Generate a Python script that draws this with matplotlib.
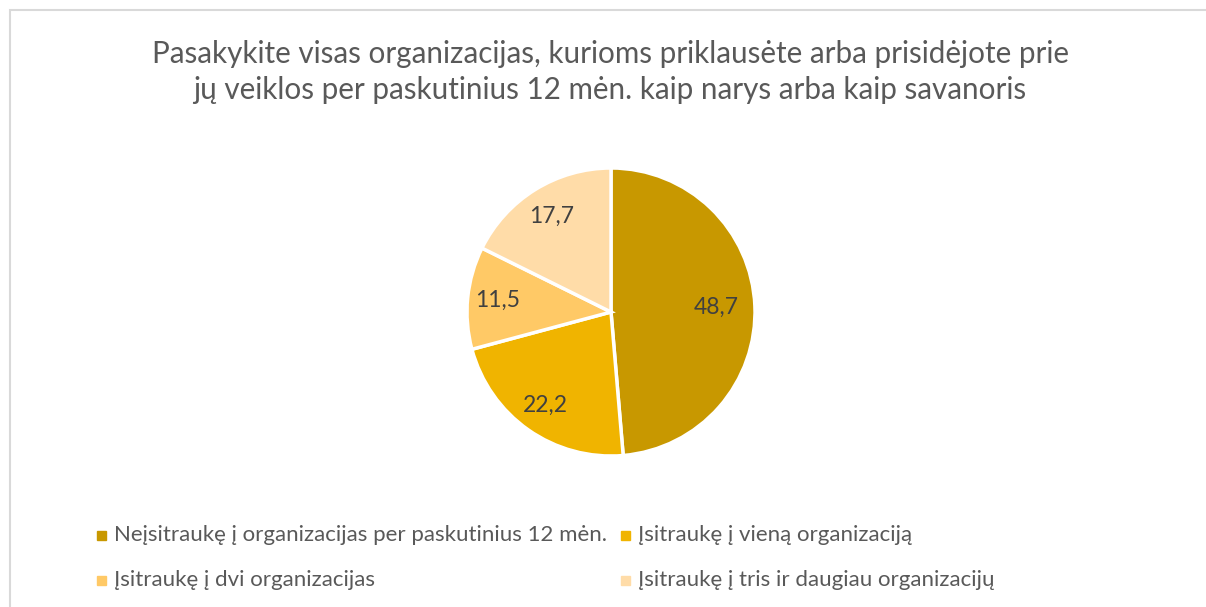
import numpy as np
import matplotlib.pyplot as plt
from matplotlib.patches import Rectangle

categories = [
    "Neįsitraukę į organizacijas per paskutinius 12 mėn.",
    "Įsitraukę į vieną organizaciją",
    "Įsitraukę į dvi organizacijas",
    "Įsitraukę į tris ir daugiau organizacijų",
]
values = [48.7, 22.2, 11.5, 17.7]
colors = ["#C89800", "#F0B400", "#FFC966", "#FFDCA8"]
title = ("Pasakykite visas organizacijas, kurioms priklausėte arba prisidėjote prie\n"
         "jų veiklos per paskutinius 12 mėn. kaip narys arba kaip savanoris")

plt.rcParams['font.family'] = ['Lato', 'DejaVu Sans']
W, H = 1206, 607
fig = plt.figure(figsize=(W / 100, H / 100), dpi=100)

# light border of the chart area
fig.patches.append(Rectangle((9.5 / W, -0.1), 1.2, (H - 9.5) / H + 0.1,
                             transform=fig.transFigure, fill=False,
                             edgecolor="#D9D9D9", linewidth=1.5))

fig.text(610 / W, 1 - 72 / H, title, ha="center", va="center",
         fontsize=21.3, color="#595959", linespacing=1.35)

cx, cy, r = 611, 312, 144
ax = fig.add_axes([(cx - r) / W, (H - cy - r) / H, 2 * r / W, 2 * r / H])
wedges, _ = ax.pie(values, colors=colors, startangle=90, counterclock=False,
                   wedgeprops=dict(edgecolor="white", linewidth=2.5))
ax.set_xlim(-1, 1)
ax.set_ylim(-1, 1)

# data labels, placed along each wedge's mid angle (Excel-like best fit)
label_dist = [0.73, 0.79, 0.79, 0.78]
for w, v, d in zip(wedges, values, label_dist):
    ang = np.deg2rad((w.theta1 + w.theta2) / 2)
    ax.text(d * np.cos(ang), d * np.sin(ang), f"{v:.1f}".replace(".", ","),
            ha="center", va="center", fontsize=16.5, color="#404040")

# legend: 2 columns, 2 rows
pos = [(101.5, 535), (625, 535), (101.5, 580), (625, 580)]
for (lx, ly), lab, c in zip(pos, categories, colors):
    fig.patches.append(Rectangle(((lx - 4.5) / W, 1 - (ly + 4.5) / H), 9 / W, 9 / H,
                                 transform=fig.transFigure, color=c))
    fig.text((lx + 13) / W, 1 - ly / H, lab, ha="left", va="center",
             fontsize=16, color="#595959")

fig.savefig("out.png", dpi=100)
